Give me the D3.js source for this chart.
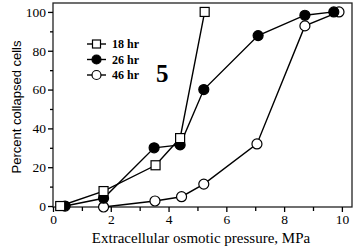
<!DOCTYPE html>
<html>
<head>
<meta charset="utf-8">
<script src="https://cdn.jsdelivr.net/npm/d3@7"></script>
<style>
  body { margin: 0; background: #fff; }
  svg { display: block; }
  .tick text { font-family: "Liberation Serif", "Times New Roman", serif; font-size: 13.5px; fill: #000; }
</style>
</head>
<body>
<svg id="chart" width="363" height="249"></svg>
<script>
// data
var seriesNames = ['18 hr', '26 hr', '46 hr'];
var x18 = [0.25, 1.75, 3.55, 4.4, 5.25];
var y18 = [0, 7.7, 21, 35, 100];
var x26 = [0.42, 1.75, 3.5, 4.4, 5.22, 7.1, 8.72, 9.72];
var y26 = [0, 4, 30, 31.5, 60, 87.8, 98.3, 100];
var x46 = [1.75, 3.53, 4.45, 5.22, 7.06, 8.72, 9.9];
var y46 = [-0.5, 2.6, 4.8, 11.3, 32, 92.8, 100];
var xTicks = [0, 2, 4, 6, 8, 10];
var yTicks = [0, 20, 40, 60, 80, 100];

var svg = d3.select('#chart');
var plotL = 53, plotR = 352, plotT = 3, plotB = 207;

var x = d3.scaleLinear().domain([0, 10.35]).range([plotL, plotR]);
var y = d3.scaleLinear().domain([-0.5, 104.6]).range([plotB, plotT]);

// frame
svg.append('rect')
  .attr('x', plotL).attr('y', plotT)
  .attr('width', plotR - plotL).attr('height', plotB - plotT)
  .attr('fill', 'none').attr('stroke', '#222').attr('stroke-width', 1.3);

// axes
svg.append('g').attr('transform', 'translate(0,' + plotB + ')')
  .call(d3.axisBottom(x).tickValues(xTicks).tickSize(5).tickPadding(2).tickFormat(d3.format('d')));
svg.append('g').attr('transform', 'translate(0,' + plotB + ')')
  .call(d3.axisBottom(x).tickValues([1, 3, 5, 7, 9]).tickSize(4).tickFormat(''));
svg.append('g').attr('transform', 'translate(' + plotL + ',0)')
  .call(d3.axisLeft(y).tickValues(yTicks).tickSize(5).tickPadding(2).tickFormat(d3.format('d')));
svg.append('g').attr('transform', 'translate(' + plotL + ',0)')
  .call(d3.axisLeft(y).tickValues([10, 30, 50, 70, 90]).tickSize(3).tickFormat(''));
svg.selectAll('.domain').remove();
svg.selectAll('.tick line').attr('stroke', '#000').attr('stroke-width', 1.3);

// axis titles
svg.append('text')
  .attr('x', 201).attr('y', 243)
  .attr('text-anchor', 'middle')
  .attr('font-family', '"Liberation Serif", "Times New Roman", serif')
  .attr('font-size', 15)
  .text('Extracellular osmotic pressure, MPa');
svg.append('text')
  .attr('transform', 'translate(21,' + 107 + ') rotate(-90)')
  .attr('text-anchor', 'middle')
  .attr('font-family', '"Liberation Sans", Arial, sans-serif')
  .attr('font-size', 13)
  .text('Percent collapsed cells');

var line = d3.line().x(function(d) { return x(d[0]); }).y(function(d) { return y(d[1]); });

function drawSeries(xs, ys, kind) {
  var pts = xs.map(function(v, i) { return [v, ys[i]]; });
  svg.append('path').datum(pts)
    .attr('d', line)
    .attr('fill', 'none').attr('stroke', '#000').attr('stroke-width', 1.4);
  var g = svg.append('g');
  if (kind == 'square') {
    g.selectAll('rect').data(pts).enter().append('rect')
      .attr('x', function(d) { return x(d[0]) - 4.5; })
      .attr('y', function(d) { return y(d[1]) - 4.5; })
      .attr('width', 9).attr('height', 9)
      .attr('fill', '#fff').attr('stroke', '#000').attr('stroke-width', 1.2);
  } else {
    g.selectAll('circle').data(pts).enter().append('circle')
      .attr('cx', function(d) { return x(d[0]); })
      .attr('cy', function(d) { return y(d[1]); })
      .attr('r', 5)
      .attr('fill', kind == 'filled' ? '#000' : '#fff')
      .attr('stroke', '#000').attr('stroke-width', 1.2);
  }
}

drawSeries(x46, y46, 'open');
drawSeries(x26, y26, 'filled');
drawSeries(x18, y18, 'square');

// legend
var kinds = ['square', 'filled', 'open'];
var legend = svg.append('g');
seriesNames.forEach(function(name, i) {
  var ly = 44 + i * 15.5;
  legend.append('line').attr('x1', 87).attr('x2', 106).attr('y1', ly).attr('y2', ly)
    .attr('stroke', '#000').attr('stroke-width', 1.4);
  if (kinds[i] == 'square') {
    legend.append('rect').attr('x', 96.5 - 4).attr('y', ly - 4).attr('width', 8).attr('height', 8)
      .attr('fill', '#fff').attr('stroke', '#000').attr('stroke-width', 1.2);
  } else {
    legend.append('circle').attr('cx', 96.5).attr('cy', ly).attr('r', 4.5)
      .attr('fill', kinds[i] == 'filled' ? '#000' : '#fff')
      .attr('stroke', '#000').attr('stroke-width', 1.2);
  }
  legend.append('text').attr('x', 112).attr('y', ly + 4)
    .attr('font-family', '"Liberation Serif", "Times New Roman", serif')
    .attr('font-size', 12).attr('font-weight', 'bold')
    .text(name);
});

svg.append('text')
  .attr('x', 156).attr('y', 82)
  .attr('font-family', '"Liberation Serif", "Times New Roman", serif')
  .attr('font-size', 25).attr('font-weight', 'bold')
  .text('5');
</script>
</body>
</html>
